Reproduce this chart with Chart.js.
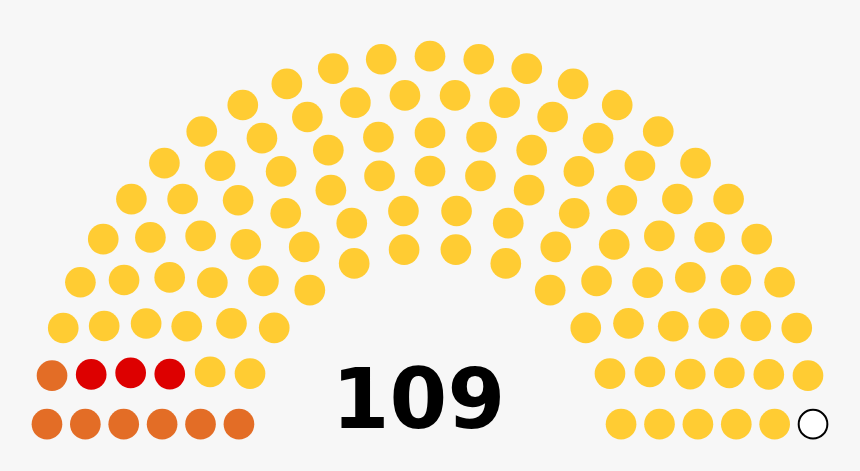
<!DOCTYPE html>
<html>
<head>
<meta charset="utf-8">
<script src="https://cdn.jsdelivr.net/npm/chart.js@4/dist/chart.umd.min.js"></script>
<style>
  html, body { margin: 0; padding: 0; background: #f7f7f7; }
  #wrap { width: 860px; height: 471px; }
</style>
</head>
<body>
<div id="wrap"><canvas id="parliament" width="860" height="471"></canvas></div>
<script>
// parties from left to right
const parties = ["Orange", "Red", "Yellow", "Vacant"];
const seats = [7, 3, 98, 1];
const fills = ["#E36D26", "#DD0000", "#FFCC33", "#FFFFFF"];
const borders = ["#E36D26", "#DD0000", "#FFCC33", "#000000"];
const totalLabel = "109";

// how many seats fit in n rows (parliament diagram table)
const rowTotals = [3, 15, 33, 61, 95, 138, 189, 247, 313, 388, 469, 559];

// seat positions, same layout as the usual hemicycle diagram
function seatPositions(total) {
  let rows = 1;
  while (rowTotals[rows - 1] < total) rows++;
  const rad = 0.4 / rows;
  const pos = [];
  function addRow(J, R) {
    if (J === 1) {
      pos.push([Math.PI / 2, 1.75, R]);
      return;
    }
    for (let j = 0; j < J; j++) {
      const a = j * (Math.PI - 2 * Math.sin(rad / R)) / (J - 1) + Math.sin(rad / R);
      pos.push([a, R * Math.cos(a) + 1.75, R * Math.sin(a)]);
    }
  }
  for (let i = 1; i < rows; i++) {
    const J = Math.floor(total / rowTotals[rows - 1] * Math.PI / (2 * Math.asin(2 / (3 * rows + 4 * i - 2))));
    addRow(J, (3 * rows + 4 * i - 2) / (4 * rows));
  }
  addRow(total - pos.length, (7 * rows - 2) / (4 * rows));
  pos.sort((p, q) => q[0] - p[0]);
  return { pos, rad };
}

const total = seats.reduce((a, b) => a + b, 0);
const layout = seatPositions(total);
const pxPerUnit = 230;

let k = 0;
const datasets = parties.map((name, i) => {
  const pts = [];
  for (let s = 0; s < seats[i]; s++, k++) {
    pts.push({ x: layout.pos[k][1], y: layout.pos[k][2] });
  }
  return {
    label: name,
    data: pts,
    backgroundColor: fills[i],
    borderColor: borders[i],
    borderWidth: name === "Vacant" ? 2 : 0,
    pointRadius: layout.rad * pxPerUnit - (name === "Vacant" ? 1 : 0),
    pointHoverRadius: layout.rad * pxPerUnit,
  };
});

const centreLabel = {
  id: "centreLabel",
  afterDatasetsDraw(chart) {
    const { ctx, scales } = chart;
    ctx.save();
    ctx.fillStyle = "#000000";
    ctx.font = 'bold 83px "DejaVu Sans", sans-serif';
    ctx.textAlign = "center";
    ctx.textBaseline = "alphabetic";
    ctx.fillText(totalLabel, scales.x.getPixelForValue(1.70), scales.y.getPixelForValue(0.05));
    ctx.restore();
  },
};

new Chart(document.getElementById("parliament"), {
  type: "scatter",
  data: { datasets },
  options: {
    responsive: false,
    animation: false,
    devicePixelRatio: 1,
    layout: { padding: 0, autoPadding: false },
    plugins: { legend: { display: false }, tooltip: { enabled: false } },
    scales: {
      x: { type: "linear", display: false, min: 1.75 - 430 / pxPerUnit, max: 1.75 + 430 / pxPerUnit },
      y: { type: "linear", display: false, min: -0.137, max: -0.137 + 471 / pxPerUnit },
    },
  },
  plugins: [centreLabel],
});
</script>
</body>
</html>
